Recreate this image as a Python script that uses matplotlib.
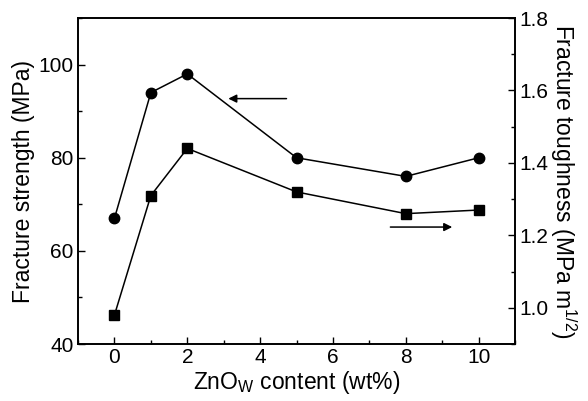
import numpy as np
import matplotlib
matplotlib.use('Agg')
import matplotlib.pyplot as plt
from matplotlib.ticker import MultipleLocator, FormatStrFormatter

plt.rcParams['font.family'] = ['Liberation Sans', 'DejaVu Sans']
plt.rcParams['mathtext.fontset'] = 'custom'
plt.rcParams['mathtext.rm'] = 'Liberation Sans'
plt.rcParams['mathtext.it'] = 'Liberation Sans:italic'

# data
content = [0, 1, 2, 5, 8, 10]
strength = [67, 94, 98, 80, 76, 80]            # MPa, circles, left axis
toughness = [0.98, 1.31, 1.44, 1.32, 1.26, 1.27]  # MPa m^1/2, squares, right axis

fig = plt.figure(figsize=[5.88, 4.01], dpi=100, facecolor='white')
ax = fig.add_axes([0.1327, 0.142, 0.876 - 0.1327, 0.955 - 0.142])
ax2 = ax.twinx()

ax.plot(content, strength, '-', color='k', linewidth=1.1, marker='o', markersize=7.5)
ax2.plot(content, toughness, '-', color='k', linewidth=1.1, marker='s', markersize=6.5)

ax.set_xlim(-1, 11); ax.set_ylim(40, 110)
ax2.set_ylim(0.9, 1.8)
ax.xaxis.set_major_locator(MultipleLocator(2)); ax.xaxis.set_minor_locator(MultipleLocator(1))
ax.yaxis.set_minor_locator(MultipleLocator(10))
ax2.yaxis.set_minor_locator(MultipleLocator(0.1))
ax.set_yticks([40, 60, 80, 100])
ax2.set_yticks([1.0, 1.2, 1.4, 1.6, 1.8])

ax.tick_params(axis='both', which='major', direction='in', length=5, width=1, labelsize=15, pad=3)
ax.tick_params(axis='both', which='minor', direction='in', length=3, width=1)
ax.tick_params(axis='x', top=False, which='both')
ax2.tick_params(axis='y', which='major', direction='in', length=5, width=1, labelsize=15, pad=3)
ax2.tick_params(axis='y', which='minor', direction='in', length=3, width=1)
ax2.yaxis.set_major_formatter(FormatStrFormatter('%.1f'))
for a in (ax, ax2):
	for s in a.spines.values():
		s.set_linewidth(1.2)

ax.set_xlabel(r'ZnO$_{\mathrm{W}}$ content (wt%)', fontsize=16.5, labelpad=1)
ax.set_ylabel('Fracture strength (MPa)', fontsize=16.5, labelpad=3)
ax2.set_ylabel(r'Fracture toughness (MPa m$^{1/2}$)', fontsize=16.5, rotation=270, labelpad=22)

# arrows pointing to the axis each curve belongs to
ax.annotate('', xy=(3.05, 92.7), xytext=(4.8, 92.7),
			arrowprops=dict(arrowstyle='-|>', color='k', lw=1.1, mutation_scale=12))
ax2.annotate('', xy=(9.35, 1.223), xytext=(7.5, 1.223),
			arrowprops=dict(arrowstyle='-|>', color='k', lw=1.1, mutation_scale=12))

plt.savefig('out.png', dpi=100, facecolor='white')
